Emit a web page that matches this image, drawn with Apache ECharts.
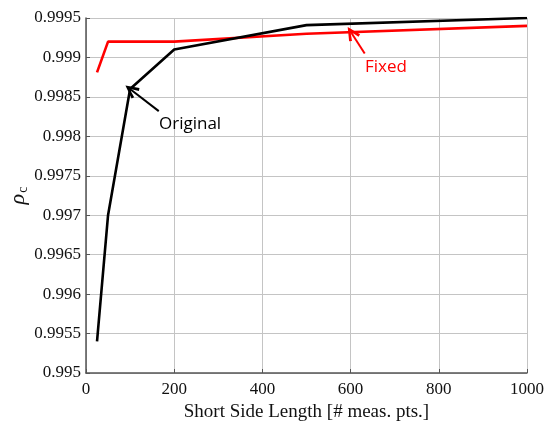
<!DOCTYPE html>
<html>
<head>
<meta charset="utf-8">
<script src="https://cdn.jsdelivr.net/npm/echarts@6/dist/echarts.min.js"></script>
<style>
html, body { margin: 0; padding: 0; background: #fff; }
#chart { width: 550px; height: 433px; }
</style>
</head>
<body>
<div id="chart"></div>
<script>
var sideLength = [25, 50, 100, 200, 500, 1000];
var originalRho = [0.9954, 0.9970, 0.9986, 0.9991, 0.99941, 0.9995];
var fixedRho = [0.99881, 0.9992, 0.9992, 0.9992, 0.99930, 0.99940];

// annotation positions, in data units
var originalArrow = [[165, 0.99832], [102, 0.99859]];
var originalText = [236, 0.99816];
var fixedArrow = [[632, 0.99905], [602, 0.99931]];
var fixedText = [680, 0.99888];

var arrowHead = 'path://M5,0 L10,10 L8,11 L5,4 L2,11 L0,10 Z';

function pairs(xs, ys) {
    return xs.map(function (x, i) { return [x, ys[i]]; });
}

var myChart = echarts.init(document.getElementById('chart'));

var serif = '"Liberation Serif", "DejaVu Serif", serif';
var sans = '"Open Sans", "Liberation Sans", sans-serif';

option = {
    animation: false,
    grid: { left: 86, right: 23, top: 18, bottom: 60, containLabel: false, outerBoundsMode: 'none' },
    xAxis: {
        type: 'value',
        min: 0,
        max: 1000,
        interval: 200,
        name: 'Short Side Length [# meas. pts.]',
        nameLocation: 'middle',
        nameGap: 28,
        nameTextStyle: { fontFamily: serif, fontSize: 19, color: '#111' },
        axisLine: { lineStyle: { color: '#555', width: 1.5 } },
        axisTick: { inside: true, length: 4, lineStyle: { color: '#555' } },
        axisLabel: {
            fontFamily: serif, fontSize: 17, color: '#111', margin: 8,
            formatter: function (v) { return String(v); }
        },
        splitLine: { lineStyle: { color: '#c4c4c4', width: 1 } }
    },
    yAxis: {
        type: 'value',
        min: 0.995,
        max: 0.9995,
        interval: 0.0005,
        name: '{a|ρ}{b|c}',
        nameLocation: 'middle',
        nameGap: 56,
        nameMoveOverlap: false,
        nameTextStyle: {
            rich: {
                a: { fontFamily: serif, fontStyle: 'italic', fontSize: 22, color: '#111' },
                b: { fontFamily: serif, fontSize: 14, color: '#111', verticalAlign: 'bottom', padding: [9, 0, 0, 1] }
            }
        },
        axisLine: { show: true, lineStyle: { color: '#555', width: 1.5 } },
        axisTick: { show: true, inside: true, length: 4, lineStyle: { color: '#555' } },
        axisLabel: {
            fontFamily: serif, fontSize: 17, color: '#111', margin: 5,
            formatter: function (v) { return String(parseFloat(v.toFixed(4))); }
        },
        splitLine: { lineStyle: { color: '#c4c4c4', width: 1 } }
    },
    series: [
        {
            name: 'Original',
            type: 'line',
            data: pairs(sideLength, originalRho),
            showSymbol: false,
            lineStyle: { color: '#000', width: 2.6 },
            itemStyle: { color: '#000' },
            z: 3,
            markLine: {
                silent: true,
                symbol: ['none', arrowHead],
                symbolSize: [13, 14],
                lineStyle: { color: '#000', width: 2, type: 'solid' },
                label: { show: false },
                data: [[{ coord: originalArrow[0] }, { coord: originalArrow[1] }]]
            },
            markPoint: {
                symbol: 'circle',
                symbolSize: 0,
                silent: true,
                label: {
                    show: true,
                    formatter: 'Original',
                    fontFamily: sans,
                    fontSize: 17,
                    color: '#000'
                },
                data: [{ coord: originalText }]
            }
        },
        {
            name: 'Fixed',
            type: 'line',
            data: pairs(sideLength, fixedRho),
            showSymbol: false,
            lineStyle: { color: '#ff0000', width: 2.6 },
            itemStyle: { color: '#ff0000' },
            z: 2,
            markLine: {
                silent: true,
                symbol: ['none', arrowHead],
                symbolSize: [13, 14],
                lineStyle: { color: '#ff0000', width: 2, type: 'solid' },
                label: { show: false },
                data: [[{ coord: fixedArrow[0] }, { coord: fixedArrow[1] }]]
            },
            markPoint: {
                symbol: 'circle',
                symbolSize: 0,
                silent: true,
                label: {
                    show: true,
                    formatter: 'Fixed',
                    fontFamily: sans,
                    fontSize: 17,
                    color: '#ff0000'
                },
                data: [{ coord: fixedText }]
            }
        }
    ]
};

myChart.setOption(option);
</script>
</body>
</html>
